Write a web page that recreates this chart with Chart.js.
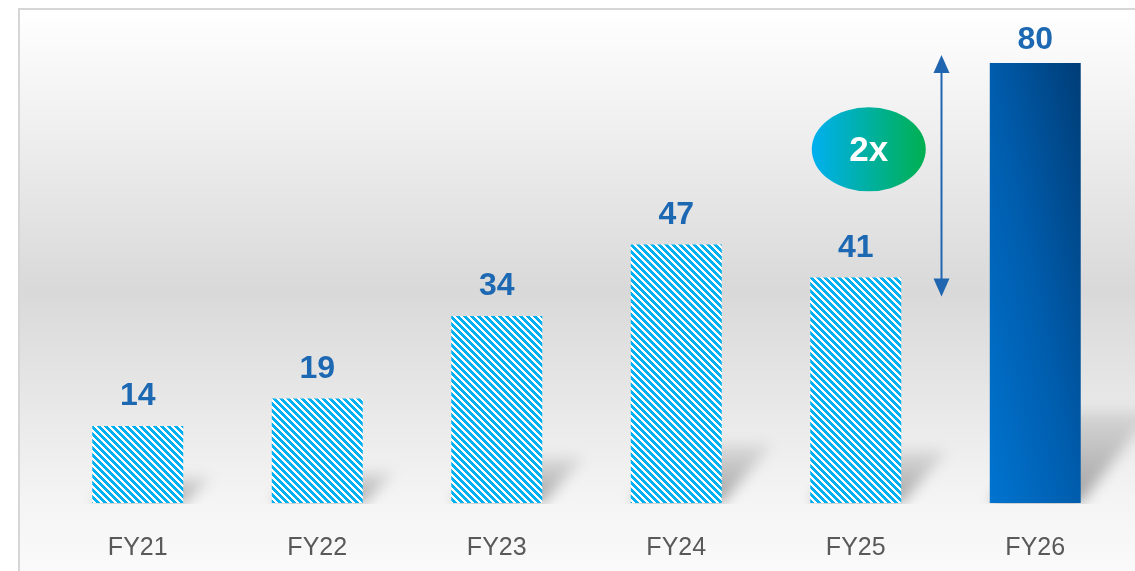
<!DOCTYPE html>
<html>
<head>
<meta charset="utf-8">
<script src="https://cdn.jsdelivr.net/npm/chart.js@4.4.1/dist/chart.umd.min.js"></script>
<style>
  html, body { margin: 0; padding: 0; background: #ffffff; }
  #wrap { width: 1135px; height: 571px; }
</style>
</head>
<body>
<div id="wrap"><canvas id="fyChart" width="1135" height="571"></canvas></div>
<script>
// data
const categories = ['FY21', 'FY22', 'FY23', 'FY24', 'FY25', 'FY26']
const values = [14, 19, 34, 47, 41, 80]
const solidIndex = 5          // FY26 is drawn solid, the rest hatched
const growthLabel = '2x'
const growthFrom = 4          // FY25
const growthTo = 5            // FY26
const bubbleValue = 64.3      // where the 2x bubble sits on the value axis

const labelBlue = '#1C68B3'
const hatchBlue = '#00B0F0'

// hatched fill
function makeHatch() {
    const n = 7
    const c = document.createElement('canvas')
    c.width = n
    c.height = n
    const g = c.getContext('2d')
    g.fillStyle = '#ffffff'
    g.fillRect(0, 0, n, n)
    g.fillStyle = hatchBlue
    for (let y = 0; y < n; y++) {
        for (let x = 0; x < n; x++) {
            if (((x - y) % n + n) % n < 4) g.fillRect(x, y, 1, 1)
        }
    }
    return g.createPattern(c, 'repeat')
}
const hatch = makeHatch()

function barFill(context) {
    if (context.dataIndex !== solidIndex) return hatch
    const chart = context.chart
    const xs = chart.scales.x
    const ys = chart.scales.y
    if (!xs || !ys || !chart.chartArea) return '#005DAE'
    const W = xs.width / categories.length * 0.9 * 0.563
    const cx = xs.getPixelForValue(context.dataIndex)
    const left = cx - W / 2
    const bottom = ys.getPixelForValue(0)
    const H = bottom - ys.getPixelForValue(values[context.dataIndex])
    // gradient vector so both left->right and bottom->top darken evenly
    const u = 2 * W * H * H / (H * H + W * W)
    const w = 2 * W * W * H / (H * H + W * W)
    const grad = chart.ctx.createLinearGradient(left, bottom, left + u, bottom - w)
    grad.addColorStop(0, '#0074D0')
    grad.addColorStop(0.5, '#005CAC')
    grad.addColorStop(1, '#003D77')
    return grad
}

// background, border and bar shadows
const backdrop = {
    id: 'backdrop',
    beforeDraw(chart) {
        const ctx = chart.ctx
        ctx.save()
        ctx.fillStyle = '#ffffff'
        ctx.fillRect(0, 0, chart.width, chart.height)
        const g = ctx.createLinearGradient(0, 9, 0, chart.height)
        g.addColorStop(0, '#ffffff')
        g.addColorStop(0.06, '#fbfbfb')
        g.addColorStop(0.5, '#d9d9d9')
        g.addColorStop(0.87, '#f4f4f4')
        g.addColorStop(1, '#fafafa')
        ctx.fillStyle = g
        ctx.fillRect(19, 9, chart.width - 19, chart.height - 9)
        ctx.strokeStyle = '#d6d6d6'
        ctx.lineWidth = 2
        ctx.beginPath()
        ctx.moveTo(19, chart.height)
        ctx.lineTo(19, 9)
        ctx.lineTo(chart.width, 9)
        ctx.stroke()
        ctx.restore()
    },
    beforeDatasetsDraw(chart) {
        const ctx = chart.ctx
        const meta = chart.getDatasetMeta(0)
        meta.data.forEach(bar => {
            const left = bar.x - bar.width / 2
            const right = bar.x + bar.width / 2
            const base = bar.base
            const h = (base - bar.y) * 0.18 + 12
            const dx = h * 0.65 + 12
            ctx.save()
            ctx.beginPath()
            ctx.rect(0, 0, chart.width, base + 1)
            ctx.clip()
            ctx.filter = 'blur(7px)'
            const g = ctx.createLinearGradient(0, base, 0, base - h)
            g.addColorStop(0, 'rgba(0,0,0,0.34)')
            g.addColorStop(1, 'rgba(0,0,0,0.08)')
            ctx.fillStyle = g
            ctx.beginPath()
            ctx.moveTo(left, base)
            ctx.lineTo(right, base)
            ctx.lineTo(right + dx, base - h)
            ctx.lineTo(left + dx, base - h)
            ctx.closePath()
            ctx.fill()
            ctx.restore()
        })
    }
}

// value labels, growth arrow and bubble
const annotations = {
    id: 'annotations',
    afterDatasetsDraw(chart) {
        const ctx = chart.ctx
        const meta = chart.getDatasetMeta(0)
        ctx.save()
        ctx.font = 'bold 32px "Liberation Sans", Arial, sans-serif'
        ctx.fillStyle = labelBlue
        ctx.textAlign = 'center'
        ctx.textBaseline = 'alphabetic'
        meta.data.forEach((bar, i) => {
            const y = Math.max(bar.y - 21, chart.chartArea.top + 30)
            ctx.fillText(String(values[i]), bar.x, y)
        })

        const xs = chart.scales.x
        const ys = chart.scales.y
        const ax = (xs.getPixelForValue(growthFrom) + xs.getPixelForValue(growthTo)) / 2 - 4
        const yTop = ys.getPixelForValue(values[growthTo]) - 8
        const yBot = ys.getPixelForValue(values[growthFrom]) + 19
        ctx.strokeStyle = '#1F65B0'
        ctx.fillStyle = '#1F65B0'
        ctx.lineWidth = 2
        ctx.beginPath()
        ctx.moveTo(ax, yTop + 10)
        ctx.lineTo(ax, yBot - 10)
        ctx.stroke()
        ctx.beginPath()
        ctx.moveTo(ax, yTop)
        ctx.lineTo(ax - 8, yTop + 18)
        ctx.lineTo(ax + 8, yTop + 18)
        ctx.closePath()
        ctx.fill()
        ctx.beginPath()
        ctx.moveTo(ax, yBot)
        ctx.lineTo(ax - 8, yBot - 18)
        ctx.lineTo(ax + 8, yBot - 18)
        ctx.closePath()
        ctx.fill()

        const bx = xs.getPixelForValue(growthFrom) + 13
        const by = ys.getPixelForValue(bubbleValue)
        const rx = 57, ry = 42
        const eg = ctx.createLinearGradient(bx - rx, 0, bx + rx, 0)
        eg.addColorStop(0, '#00B0F0')
        eg.addColorStop(1, '#00B050')
        ctx.fillStyle = eg
        ctx.beginPath()
        ctx.ellipse(bx, by, rx, ry, 0, 0, Math.PI * 2)
        ctx.fill()
        ctx.fillStyle = '#ffffff'
        ctx.font = 'bold 35px "Liberation Sans", Arial, sans-serif'
        ctx.textBaseline = 'middle'
        ctx.fillText(growthLabel, bx, by + 2)
        ctx.restore()
    }
}

const chart = new Chart(document.getElementById('fyChart'), {
    type: 'bar',
    data: {
        labels: categories,
        datasets: [{
            data: values,
            backgroundColor: barFill,
            borderWidth: 0,
            categoryPercentage: 0.9,
            barPercentage: 0.563
        }]
    },
    options: {
        responsive: false,
        animation: false,
        layout: {
            padding: { left: 48, right: 10, top: 19, bottom: 8 }
        },
        plugins: {
            legend: { display: false },
            tooltip: { enabled: false }
        },
        scales: {
            x: {
                grid: { display: false, drawTicks: false },
                border: { display: false },
                afterFit: scale => { scale.height = 60 },
                ticks: {
                    padding: 30,
                    color: '#595959',
                    font: { family: '"Liberation Sans", Arial, sans-serif', size: 25 }
                }
            },
            y: {
                display: false,
                min: 0,
                max: 88
            }
        }
    },
    plugins: [backdrop, annotations]
})
</script>
</body>
</html>
